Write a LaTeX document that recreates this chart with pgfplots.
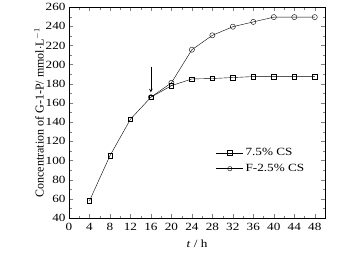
\documentclass[border=0pt]{standalone}
\usepackage{pgfplots}
\pgfplotsset{compat=1.18}
\usepackage{fontspec}
\setmainfont{Liberation Serif}
\newfontfamily\widefont[FakeStretch=1.2]{Liberation Serif}
\begin{document}
\begin{tikzpicture}
\begin{axis}[
  name=main,
  scale only axis, width=256pt, height=211pt,
  xmin=0, xmax=50, ymin=40, ymax=260,
  xtick={0,4,...,48}, ytick={40,60,...,260},
  minor x tick num=1, minor y tick num=1,
  tick align=inside, tick pos=both,
  xticklabel pos=bottom, yticklabel pos=left,
  major tick length=4pt, minor tick length=2.5pt,
  /pgf/number format/assume math mode=true,
  ticklabel style={font=\widefont\fontsize{11}{13}\selectfont},
  xticklabel style={yshift=-1.5pt},
  xlabel={\textit{t} / h}, ylabel={Concentration of G-1-P/ mmol$\cdot$L$^{-1}$},
  xlabel style={font=\widefont\fontsize{11}{13}\selectfont, yshift=-2pt},
  ylabel style={font=\fontsize{12}{14}\selectfont, yshift=-5pt},
  legend style={draw=none, fill=none, at={(0.57,0.345)}, anchor=north west, font=\widefont\fontsize{11}{13}\selectfont, row sep=3pt, inner sep=1pt},
  legend cell align=left,
  legend image code/.code={\draw[#1] (0cm,0cm) -- (0.95cm,0cm); \draw[#1, only marks, mark size=2.2pt] plot coordinates {(0.475cm,0cm)};},
]
\addplot[black, mark=square, mark size=2.2pt, mark options={fill=white}] coordinates {
(4,58) (8,105) (12,143) (16,166) (20,178) (24,185) (28,185.5) (32,186.5) (36,187.5) (40,187.5) (44,187.5) (48,187.5)};
\addlegendentry{7.5\% CS}
\addplot[black, mark=o, mark size=2.6pt, mark options={fill=white}] coordinates {
(16,166) (20,181) (24,215.5) (28,230.5) (32,239.5) (36,244.5) (40,249.5) (44,249.5) (48,249.5)};
\addlegendentry{F-2.5\% CS}
\draw[-stealth, semithick] (axis cs:16,198) -- (axis cs:16,171);
\end{axis}
\path (main.south west) ++(-69pt,-41pt) coordinate (bl);
\path (main.north east) ++(33pt,7pt) coordinate (tr);
\end{tikzpicture}
\end{document}
